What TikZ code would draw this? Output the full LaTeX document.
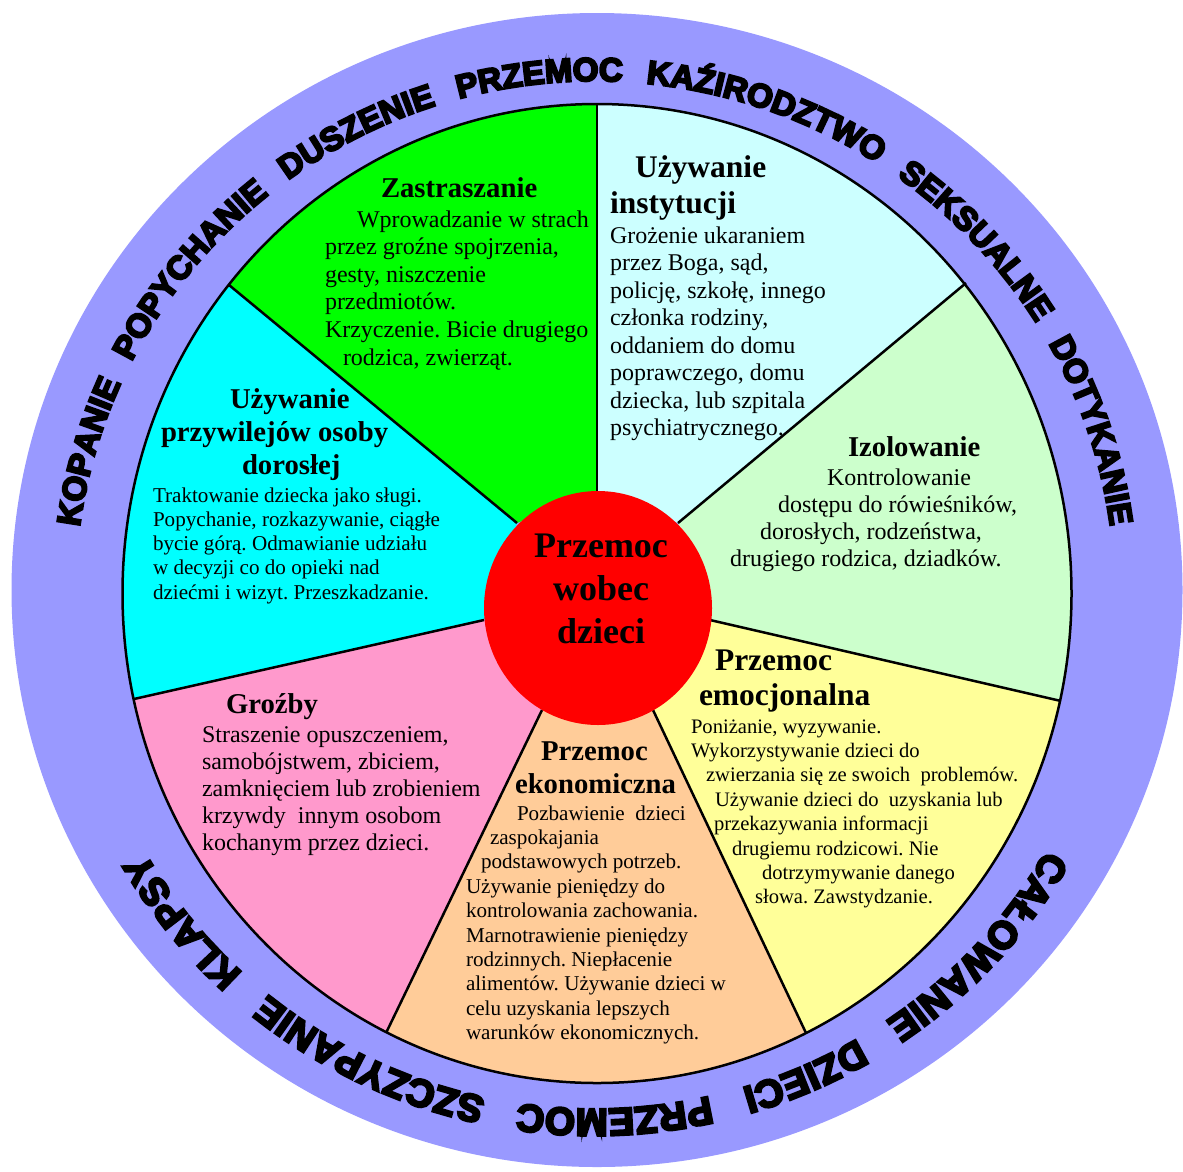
\documentclass[tikz,border=0pt]{standalone}
\usepackage{fontspec}
\setmainfont{Liberation Serif}
\newfontfamily\ringfont{Liberation Sans Bold}[FakeBold=6.5]
\usetikzlibrary{calc,decorations.text}
\definecolor{ringcol}{HTML}{9999FF}
\definecolor{cA}{HTML}{CCFFFF}
\definecolor{cB}{HTML}{CCFFCC}
\definecolor{cC}{HTML}{FFFF99}
\definecolor{cD}{HTML}{FFCC99}
\definecolor{cE}{HTML}{FF99CC}
\definecolor{cF}{HTML}{00FFFF}
\definecolor{cG}{HTML}{00FF00}
\definecolor{hubred}{HTML}{FF0000}
\newcommand\ringtextA{\ringfont\fontsize{33}{33}\selectfont}
\newcommand\ringtextB{\ringfont\fontsize{38.5}{38.5}\selectfont}
\begin{document}
\frenchspacing
\begin{tikzpicture}[x=1pt,y=-1pt,
  secline/.style={line width=2.5pt, black},
  txt/.style={anchor=base west, inner sep=0pt, outer sep=0pt},
  ttlA/.style={txt, font=\bfseries\fontsize{28.7}{32}\selectfont},
  ttlB/.style={txt, font=\bfseries\fontsize{31.5}{35}\selectfont},
  bodyA/.style={txt, font=\fontsize{24}{28}\selectfont},
  bodyB/.style={txt, font=\fontsize{21.1}{24}\selectfont},
  bodyC/.style={txt, font=\fontsize{20.6}{24}\selectfont},
  hubtxt/.style={anchor=base, inner sep=0pt, font=\bfseries\fontsize{36}{40}\selectfont}]
\useasboundingbox (0,0) rectangle (1183,1171);
% outer ring
\fill[ringcol] (597,590) ellipse [x radius=585.5, y radius=577];
% sector boundary points
\coordinate (o0) at (597,104);   \coordinate (i0) at (597,491);
\coordinate (o1) at (966,283);   \coordinate (i1) at (678,523);
\coordinate (o2) at (1061,701);  \coordinate (i2) at (710,620);
\coordinate (o3) at (806,1033);  \coordinate (i3) at (653,710);
\coordinate (o4) at (386.5,1032);\coordinate (i4) at (542,710);
\coordinate (o5) at (134,699);   \coordinate (i5) at (484,620);
\coordinate (o6) at (229,285);   \coordinate (i6) at (517,523);
\begin{scope}
\clip (597,593.5) ellipse [x radius=474.5, y radius=489.5];
\fill[cA] (i0) -- ($(i0)!1.6!(o0)$) -- ($(i1)!1.6!(o1)$) -- (i1) -- cycle;
\fill[cB] (i1) -- ($(i1)!1.6!(o1)$) -- ($(i2)!1.6!(o2)$) -- (i2) -- cycle;
\fill[cC] (i2) -- ($(i2)!1.6!(o2)$) -- ($(i3)!1.6!(o3)$) -- (i3) -- cycle;
\fill[cD] (i3) -- ($(i3)!1.6!(o3)$) -- ($(i4)!1.6!(o4)$) -- (i4) -- cycle;
\fill[cE] (i4) -- ($(i4)!1.6!(o4)$) -- ($(i5)!1.6!(o5)$) -- (i5) -- cycle;
\fill[cF] (i5) -- ($(i5)!1.6!(o5)$) -- ($(i6)!1.6!(o6)$) -- (i6) -- cycle;
\fill[cG] (i6) -- ($(i6)!1.6!(o6)$) -- ($(i0)!1.6!(o0)$) -- (i0) -- cycle;
\end{scope}
\foreach \k in {0,...,6} \draw[secline] (i\k) -- (o\k);
\draw[secline] (597,593.5) ellipse [x radius=474.5, y radius=489.5];
\fill[hubred] (598,608) ellipse [x radius=114, y radius=117];
% hub text
\node[hubtxt] (h1) at (601,557) {Przemoc};
\node[hubtxt] (h2) at (601,600) {wobec};
\node[hubtxt] (h3) at (601,643) {dzieci};
% green
\node[ttlA] (gT) at (381,197) {Zastraszanie};
\foreach \xx/\tx [count=\i] in {357/{Wprowadzanie w strach},325/{przez groźne spojrzenia,},325/{gesty, niszczenie},325/{przedmiotów.},325/{Krzyczenie. Bicie drugiego},343/{rodzica, zwierząt.}}
  \node[bodyA] (g\i) at (\xx,{227+27.6*(\i-1)}) {\tx};
% light cyan
\node[ttlB] (aT1) at (635,177) {Używanie};
\node[ttlB] (aT2) at (610,213) {instytucji};
\foreach \tx [count=\i] in {{Grożenie ukaraniem},{przez Boga, sąd,},{policję, szkołę, innego},{członka rodziny,},{oddaniem do domu},{poprawczego, domu},{dziecka, lub szpitala},{psychiatrycznego.}}
  \node[bodyA] (a\i) at (610,{243+27.5*(\i-1)}) {\tx};
% light green
\node[ttlA] (bT) at (848,456) {Izolowanie};
\foreach \xx/\tx [count=\i] in {827/{Kontrolowanie},778/{dostępu do rówieśników,},760/{dorosłych, rodzeństwa,},730/{drugiego rodzica, dziadków.}}
  \node[bodyA] (b\i) at (\xx,{485+27.3*(\i-1)}) {\tx};
% yellow
\node[ttlB] (cT1) at (715,670) {Przemoc};
\node[ttlB] (cT2) at (699,705) {emocjonalna};
\foreach \xx/\tx [count=\i] in {691/{Poniżanie, wyzywanie.},691/{Wykorzystywanie dzieci do},706/{zwierzania się ze swoich~ problemów.},715/{Używanie dzieci do~ uzyskania lub},714/{przekazywania informacji},732/{drugiemu rodzicowi. Nie},762/{dotrzymywanie danego},755/{słowa. Zawstydzanie.}}
  \node[bodyC] (c\i) at (\xx,{733+24.4*(\i-1)}) {\tx};
% peach
\node[ttlA] (dT1) at (541,760) {Przemoc};
\node[ttlA] (dT2) at (515,793) {ekonomiczna};
\foreach \xx/\tx [count=\i] in {517/{Pozbawienie~ dzieci},490/{zaspokajania},481/{podstawowych potrzeb.},466/{Używanie pieniędzy do},466/{kontrolowania zachowania.},466/{Marnotrawienie pieniędzy},466/{rodzinnych. Niepłacenie},466/{alimentów. Używanie dzieci w},466/{celu uzyskania lepszych},466/{warunków ekonomicznych.}}
  \node[bodyB] (d\i) at (\xx,{820+24.4*(\i-1)}) {\tx};
% pink
\node[ttlA] (eT) at (226,713) {Groźby};
\foreach \tx [count=\i] in {{Straszenie opuszczeniem,},{samobójstwem, zbiciem,},{zamknięciem lub zrobieniem},{krzywdy~ innym osobom},{kochanym przez dzieci.}}
  \node[bodyA] (e\i) at (202,{742+27*(\i-1)}) {\tx};
% cyan
\node[ttlA] (fT1) at (230,408) {Używanie};
\node[ttlA] (fT2) at (161,441) {przywilejów osoby};
\node[ttlA] (fT3) at (242,474) {dorosłej};
\foreach \tx [count=\i] in {{Traktowanie dziecka jako sługi.},{Popychanie, rozkazywanie, ciągłe},{bycie górą. Odmawianie udziału},{w decyzji co do opieki nad},{dziećmi i wizyt. Przeszkadzanie.}}
  \node[bodyB] (f\i) at (153,{502+24.3*(\i-1)}) {\tx};
% ring texts
\path[decorate, decoration={text along path,
   text={|\ringtextA|KOPANIE POPYCHANIE DUSZENIE PRZEMOC KAŹIRODZTWO SEKSUALNE DOTYKANIE},
   text align={fit to path stretching spaces}}]
  ($(595,595)+(187.6:520 and 514)$) arc[start angle=187.6, end angle=352.3, x radius=520, y radius=514];
\path[decorate, decoration={text along path,
   text={|\ringtextB|CAŁOWANIE DZIECI PRZEMOC SZCZYPANIE KLAPSY},
   text align={fit to path stretching spaces}}]
  ($(595,595)+(29.7:520 and 514)$) arc[start angle=29.7, end angle=150, x radius=520, y radius=514];
\end{tikzpicture}
\end{document}
